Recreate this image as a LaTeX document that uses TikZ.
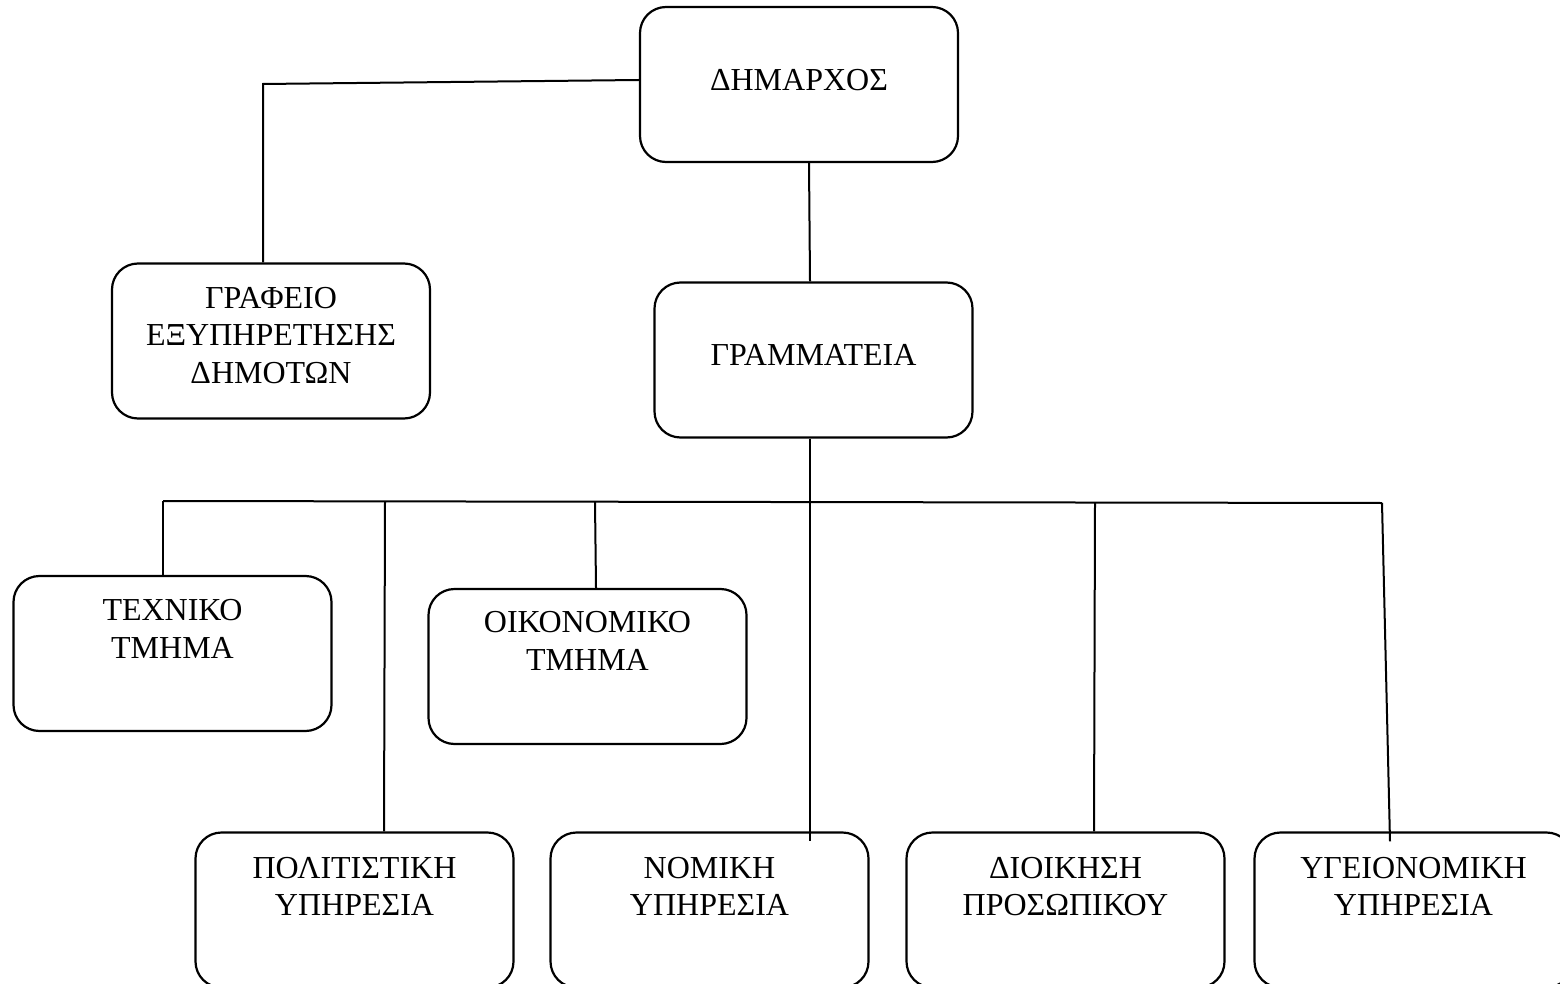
\documentclass[tikz,border=0pt]{standalone}
\usepackage{fontspec}
\setmainfont{Liberation Serif}
\begin{document}
\begin{tikzpicture}[x=1pt,y=-1pt,
  unitbox/.style={draw=black, line width=2.2pt, rounded corners=26pt,
    minimum width=318pt, minimum height=155pt, inner sep=0pt},
  unittext/.style={anchor=base, align=center, inner sep=0pt,
    font=\fontsize{32}{37.5}\selectfont},
  link/.style={draw=black, line width=2pt}]
\useasboundingbox (0,0) rectangle (1560,984);
\clip (0,0) rectangle (1560,984);

% boxes
\node[unitbox] (dim)   at (799,84.5)   {};
\node[unitbox] (graf)  at (271,341)    {};
\node[unitbox] (gram)  at (813.5,360)  {};
\node[unitbox] (tech)  at (172.5,653.5){};
\node[unitbox] (oik)   at (587.5,666.5){};
\node[unitbox] (pol)   at (354.5,910)  {};
\node[unitbox] (nom)   at (709.5,910)  {};
\node[unitbox] (dioik) at (1065.5,910) {};
\node[unitbox] (yge)   at (1413.5,910) {};

% labels (anchored at the baseline of their last line)
\node[unittext] (dimt)   at ([yshift=-85pt]dim.north)     {ΔΗΜΑΡΧΟΣ};
\node[unittext] (graft)  at ([yshift=-121pt]graf.north)   {ΓΡΑΦΕΙΟ\\ΕΞΥΠΗΡΕΤΗΣΗΣ\\ΔΗΜΟΤΩΝ};
\node[unittext] (gramt)  at ([yshift=-84pt]gram.north)    {ΓΡΑΜΜΑΤΕΙΑ};
\node[unittext] (techt)  at ([yshift=-83.5pt]tech.north)  {ΤΕΧΝΙΚΟ\\ΤΜΗΜΑ};
\node[unittext] (oikt)   at ([yshift=-82.5pt]oik.north)   {ΟΙΚΟΝΟΜΙΚΟ\\ΤΜΗΜΑ};
\node[unittext] (polt)   at ([yshift=-84.5pt]pol.north)   {ΠΟΛΙΤΙΣΤΙΚΗ\\ΥΠΗΡΕΣΙΑ};
\node[unittext] (nomt)   at ([yshift=-84.5pt]nom.north)   {ΝΟΜΙΚΗ\\ΥΠΗΡΕΣΙΑ};
\node[unittext] (dioikt) at ([yshift=-84.5pt]dioik.north) {ΔΙΟΙΚΗΣΗ\\ΠΡΟΣΩΠΙΚΟΥ};
\node[unittext] (yget)   at ([yshift=-84.5pt]yge.north)   {ΥΓΕΙΟΝΟΜΙΚΗ\\ΥΠΗΡΕΣΙΑ};

% junction points on the distribution bar
\coordinate (b1) at (163,501);
\coordinate (b2) at (385,501.5);
\coordinate (b3) at (595,502);
\coordinate (b5) at (1095,502.5);
\coordinate (b6) at (1382,503);

% connectors
\draw[link] ([yshift=4.5pt]dim.west) -- (263,84) -- ([xshift=-8pt]graf.north);
\draw[link] ([xshift=10pt]dim.south) -- ([xshift=-3.5pt]gram.north);
\draw[link] ([xshift=-3.5pt]gram.south) -- ([xshift=100.5pt,yshift=-10pt]nom.north);
\draw[link] (b1) -- (b6);
\draw[link] (b1) -- ([xshift=-9.5pt]tech.north);
\draw[link] (b2) -- ([xshift=29.5pt]pol.north);
\draw[link] (b3) -- ([xshift=8.5pt]oik.north);
\draw[link] (b5) -- ([xshift=28.5pt]dioik.north);
\draw[link] (b6) -- ([xshift=-23.5pt,yshift=-10pt]yge.north);
\end{tikzpicture}
\end{document}
